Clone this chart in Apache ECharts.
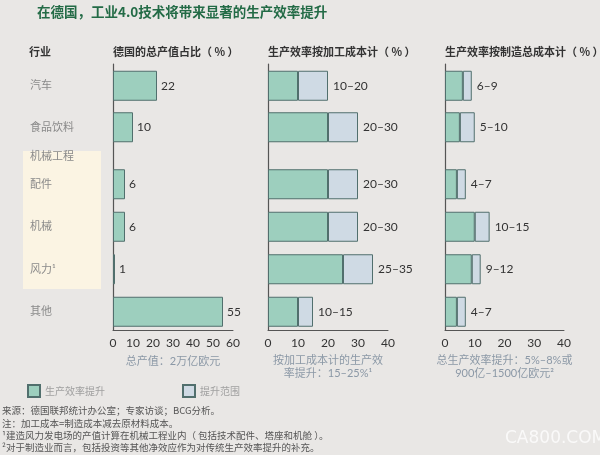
<!DOCTYPE html>
<html>
<head>
<meta charset="utf-8">
<script src="https://cdn.jsdelivr.net/npm/echarts@6/dist/echarts.min.js"></script>
<style>
html,body{margin:0;padding:0;background:#e9e7e5;}
#chart{width:600px;height:455px;}
</style>
</head>
<body>
<div id="chart"></div>
<script>
// ---- data ----
const categories = ['汽车', '食品饮料', '配件', '机械', '风力¹', '其他'];
const groupStart = 2; // rows from here on sit under the 机械工程 group block
const outputShare = [22, 10, 6, 6, 1, 55];
const procLow = [10, 20, 20, 20, 25, 10];
const procHigh = [20, 30, 30, 30, 35, 15];
const totalLow = [6, 5, 4, 10, 9, 4];
const totalHigh = [9, 10, 7, 15, 12, 7];
const axisMax = [60, 40, 40];
const tickStep = 10;
const panelTitles = ['德国的总产值占比（ % ）', '生产效率按加工成本计（ % ）', '生产效率按制造总成本计（ % ）'];
const axisNotes = ['总产值：2万亿欧元', '按加工成本计的生产效\n率提升：15–25%¹', '总生产效率提升：5%–8%或\n900亿–1500亿欧元²'];
const legendNames = ['生产效率提升', '提升范围'];

// ---- layout / style ----
const GREEN = '#9dcfbe', BLUE = '#cfdae4', EDGE = '#516f6d';
const panels = [
  { left: 113, width: 120, nameGap: 25 },
  { left: 268, width: 120, nameGap: 22 },
  { left: 445, width: 119, nameGap: 20 }
];
const FRAME = { top: 64, height: 266 };
const TOPG = { top: 65, height: 83 };
const BOTG = { top: 163, height: 170 };

const grids = [], xAxes = [], yAxes = [], series = [];
const topCats = categories.slice(0, groupStart);
const botCats = categories.slice(groupStart);

panels.forEach((p, pi) => {
  const base = pi * 3;
  // frame grid: draws the visible axes
  grids.push({ left: p.left, width: p.width, top: FRAME.top, height: FRAME.height });
  xAxes.push({
    gridIndex: base, type: 'value', min: 0, max: axisMax[pi], interval: tickStep,
    axisLine: { show: true, lineStyle: { color: '#555', width: 1 } },
    axisTick: { show: false }, splitLine: { show: false },
    axisLabel: { color: '#333', fontSize: 12, margin: 7 },
    name: axisNotes[pi], nameLocation: 'middle', nameGap: p.nameGap,
    nameTextStyle: { color: '#8b98a6', fontSize: 11, lineHeight: 13 }
  });
  yAxes.push({
    gridIndex: base, type: 'value', min: 0, max: 1,
    axisLine: { show: true, lineStyle: { color: '#555', width: 1.2 } },
    axisTick: { show: false }, axisLabel: { show: false }, splitLine: { show: false }
  });
  // data grids
  [[TOPG, topCats, 0], [BOTG, botCats, groupStart]].forEach(([g, cats, off], gi) => {
    const gIdx = base + 1 + gi;
    grids.push({ left: p.left, width: p.width, top: g.top, height: g.height });
    xAxes.push({ gridIndex: gIdx, type: 'value', min: 0, max: axisMax[pi], show: false });
    yAxes.push({
      gridIndex: gIdx, type: 'category', data: cats, inverse: true,
      axisLine: { show: false }, axisTick: { show: false }, splitLine: { show: false },
      axisLabel: pi === 0 ? { show: true, align: 'left', margin: 83, color: '#8a8a8a', fontSize: 11 } : { show: false }
    });
    const sl = (arr) => arr.slice(off, off + cats.length);
    if (pi === 0) {
      series.push({
        type: 'bar', name: legendNames[0], xAxisIndex: gIdx, yAxisIndex: gIdx,
        data: sl(outputShare), barWidth: 30,
        itemStyle: { color: GREEN, borderColor: EDGE, borderWidth: 1 },
        label: { show: true, position: 'right', distance: 4, color: '#333', fontSize: 12 }
      });
    } else {
      const low = pi === 1 ? procLow : totalLow;
      const high = pi === 1 ? procHigh : totalHigh;
      const stack = 'p' + pi + 'g' + gi;
      series.push({
        type: 'bar', name: legendNames[0], stack, xAxisIndex: gIdx, yAxisIndex: gIdx,
        data: sl(low), barWidth: 30,
        itemStyle: { color: GREEN, borderColor: EDGE, borderWidth: 1 }
      });
      series.push({
        type: 'bar', name: legendNames[1], stack, xAxisIndex: gIdx, yAxisIndex: gIdx,
        data: sl(high).map((h, i) => h - sl(low)[i]), barWidth: 30,
        itemStyle: { color: BLUE, borderColor: EDGE, borderWidth: 1 },
        label: {
          show: true, position: 'right', distance: 5, color: '#333', fontSize: 12,
          formatter: (pr) => low[off + pr.dataIndex] + '–' + high[off + pr.dataIndex]
        }
      });
    }
  });
});

const footnotes = [
  '来源：德国联邦统计办公室；专家访谈；BCG分析。',
  '注：加工成本=制造成本减去原材料成本。',
  '¹建造风力发电场的产值计算在机械工程业内（ 包括技术配件、塔座和机舱 ）。',
  '²对于制造业而言，包括投资等其他净效应作为对传统生产效率提升的补充。'
];

const graphics = [
  { type: 'rect', left: 23, top: 151, shape: { width: 78, height: 138 }, style: { fill: '#fbf4e3' }, z: -1 },
  { type: 'text', left: 37, top: 5, style: { text: '在德国，工业4.0技术将带来显著的生产效率提升', fill: '#236b46', font: 'bold 13.5px "Noto Sans CJK SC", sans-serif' } },
  { type: 'text', left: 29, top: 46, style: { text: '行业', fill: '#333', font: 'bold 11px "Noto Sans CJK SC", sans-serif' } },
  { type: 'text', left: 30, top: 150, style: { text: '机械工程', fill: '#8a8a8a', font: '11px "Noto Sans CJK SC", sans-serif' } },
  { type: 'text', left: 505, top: 430, style: { text: 'CA800.COM', fill: 'rgba(255,255,255,0.75)', font: '17px "DejaVu Sans", sans-serif' } }
];
panels.forEach((p, pi) => {
  graphics.push({ type: 'text', left: p.left, top: 46, style: { text: panelTitles[pi], fill: '#333', font: 'bold 11px "Noto Sans CJK SC", sans-serif' } });
});
footnotes.forEach((t, i) => {
  graphics.push({ type: 'text', left: 2, top: 406 + i * 12.2, style: { text: t, fill: '#555', font: '9.5px "Noto Sans CJK SC", sans-serif' } });
});

const chart = echarts.init(document.getElementById('chart'), null, { renderer: 'canvas' });
chart.setOption({
  backgroundColor: '#e9e7e5',
  animation: false,
  textStyle: { fontFamily: 'Lato, "Noto Sans CJK SC", sans-serif' },
  grid: grids, xAxis: xAxes, yAxis: yAxes, series,
  legend: {
    data: legendNames, left: 22, top: 379, icon: 'rect',
    itemWidth: 12, itemHeight: 12, itemGap: 77, selectedMode: false,
    textStyle: { color: '#a0a0a0', fontSize: 10, fontFamily: '"Noto Sans CJK SC", sans-serif' }
  },
  graphic: graphics
});
</script>
</body>
</html>
